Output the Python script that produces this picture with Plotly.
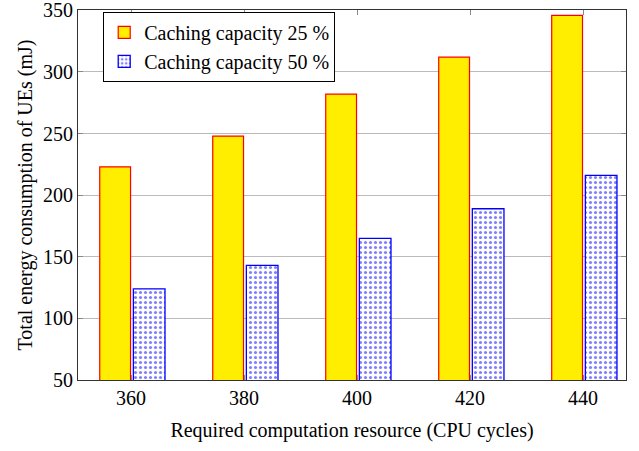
import plotly.graph_objects as go

cpu_cycles = [360, 380, 400, 420, 440]
energy_cache_25 = [223, 248, 282, 312, 346]
energy_cache_50 = [124, 143, 165, 189, 216]
y_ticks = [50, 100, 150, 200, 250, 300, 350]

FONT = "Liberation Serif"

fig = go.Figure()
fig.add_trace(go.Bar(
    x=cpu_cycles, y=energy_cache_25,
    name="Caching capacity 25 %",
    width=5.45, offset=-5.55,
    marker=dict(color="#ffee00", line=dict(color="#ff0000", width=1.2)),
))
fig.add_trace(go.Bar(
    x=cpu_cycles, y=energy_cache_50,
    name="Caching capacity 50 %",
    width=5.6, offset=0.4,
    marker=dict(
        color="white",
        line=dict(color="#0000ff", width=1.3),
        pattern=dict(shape=".", fgcolor="#0000ff", bgcolor="white",
                     size=5, solidity=0.3),
    ),
))

fig.update_layout(
    width=639, height=451,
    margin=dict(l=78, r=13, t=10, b=71, autoexpand=False),
    plot_bgcolor="white", paper_bgcolor="white",
    font=dict(family=FONT, size=20, color="black"),
    barmode="overlay",
    showlegend=True,
    legend=dict(
        x=0.046, y=0.995, xanchor="left", yanchor="top",
        bgcolor="white", bordercolor="black", borderwidth=1,
        font=dict(family=FONT, size=20),
        itemwidth=30, tracegroupgap=0,
    ),
    xaxis=dict(
        range=[350.6, 447.6],
        tickvals=cpu_cycles,
        ticks="inside", ticklen=5, tickcolor="#888",
        showline=True, linecolor="#333", linewidth=1.2, mirror="ticks",
        showgrid=False, zeroline=False,
        title=dict(text="Required computation resource (CPU cycles)",
                   font=dict(family=FONT, size=20), standoff=14),
        tickfont=dict(family=FONT, size=20),
    ),
    yaxis=dict(
        range=[50, 350.3],
        tickvals=y_ticks,
        ticks="inside", ticklen=5, tickcolor="#888",
        showline=True, linecolor="#333", linewidth=1.2, mirror="ticks",
        showgrid=True, gridcolor="#bbbbbb", gridwidth=1,
        zeroline=False,
        ticklabeloverflow="allow",
        title=dict(text="Total energy consumption of UEs (mJ)",
                   font=dict(family=FONT, size=20), standoff=4),
        tickfont=dict(family=FONT, size=20),
    ),
)

fig.write_html("out.html")
